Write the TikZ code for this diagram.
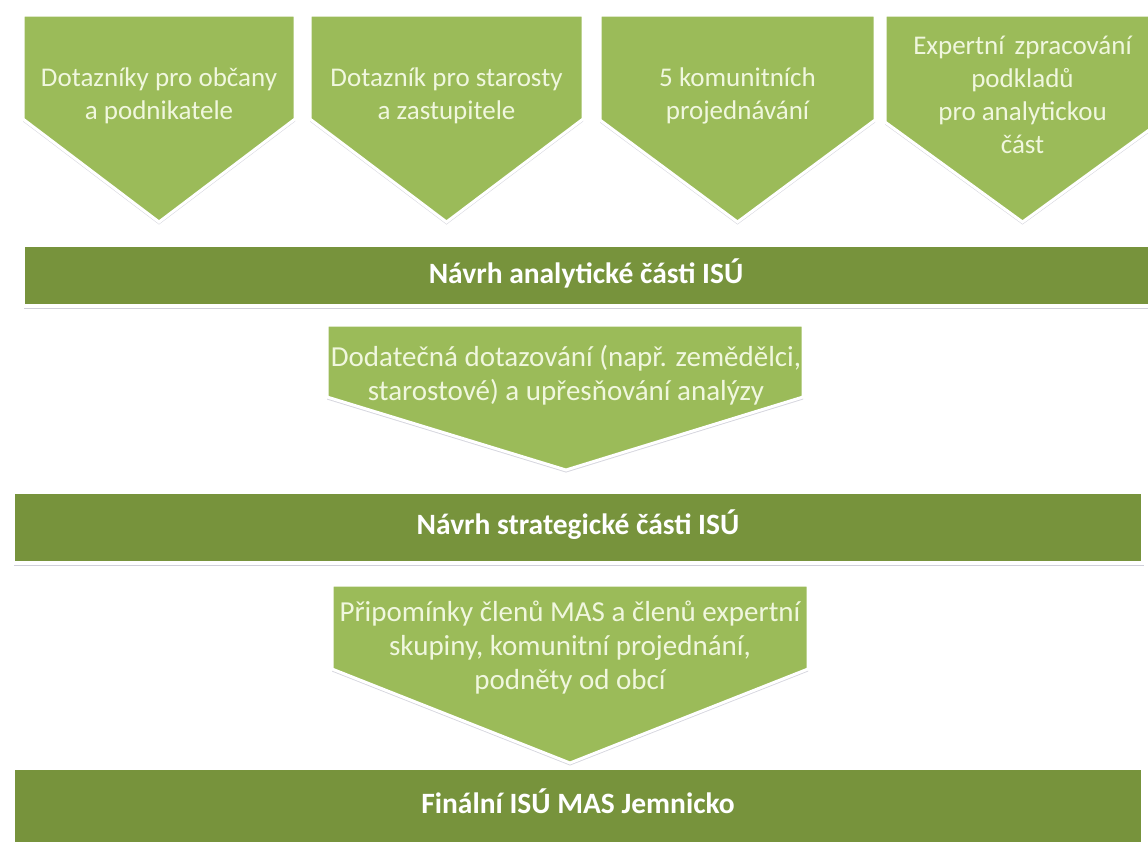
\documentclass[tikz,border=0pt]{standalone}
\usepackage{fontspec}
\setmainfont{Carlito}
\usetikzlibrary{shadows}
\definecolor{lightg}{RGB}{155,187,89}
\definecolor{darkg}{RGB}{119,147,60}
\definecolor{cream}{RGB}{240,247,222}
\definecolor{shadowc}{RGB}{150,150,172}
\tikzset{
  shp/.style={fill=lightg, draw=white, line width=3pt, line join=miter,
    drop shadow={shadow xshift=0pt, shadow yshift=-2.5pt, opacity=0.4, fill=shadowc}},
  barbox/.style={fill=darkg, draw=white, line width=3.5pt,
    drop shadow={shadow xshift=0.5pt, shadow yshift=-2.5pt, opacity=0.45, fill=shadowc}},
  ptxt/.style={text=cream, align=center, inner sep=0pt, font=\fontsize{27}{33}\selectfont},
  mtxt/.style={text=cream, align=center, inner sep=0pt, font=\fontsize{29}{34}\selectfont},
  btxt/.style={text=white, align=center, inner sep=0pt, font=\bfseries\fontsize{29.5}{35}\selectfont}
}
\begin{document}
\begin{tikzpicture}[x=1pt,y=-1pt]
\useasboundingbox (0,0) rectangle (1148,841);
\fill[white] (0,0) rectangle (1148,841);
\clip (0,0) rectangle (1148,841);
% top pentagons
\path[shp] (23,15) -- (295,15) -- (295,119) -- (159,222) -- (23,119) -- cycle;
\path[shp] (310,15) -- (583,15) -- (583,119) -- (446.5,222) -- (310,119) -- cycle;
\path[shp] (600,15) -- (875,15) -- (875,120) -- (737.5,222) -- (600,120) -- cycle;
\path[shp] (885,15) -- (1160,15) -- (1160,122) -- (1022.5,222) -- (885,122) -- cycle;
\node[ptxt] (p1) at (159,96) {Dotazníky pro občany\\a podnikatele};
\node[ptxt] (p2) at (446.5,96) {Dotazník pro starosty\\a zastupitele};
\node[ptxt] (p3) at (737.5,96) {5 komunitních\\projednávání};
\node[ptxt] (p4) at (1022.5,95) {Expertní\hspace{4pt} zpracování\\podkladů\\pro analytickou\\část};
% bar 1
\path[barbox] (23,245) rectangle (1165,306);
\node[btxt] (b1) at (586,273) {Návrh analytické části ISÚ};
% arrow 2
\path[shp] (327,325) -- (803,325) -- (803,397) -- (566,470) -- (327,397) -- cycle;
\node[mtxt] (m1) at (566,375) {Dodatečná dotazování (např. zemědělci,\\starostové) a upřesňování analýzy};
% bar 2
\path[barbox] (13,492) rectangle (1143,563);
\node[btxt] (b2) at (578,525) {Návrh strategické části ISÚ};
% arrow 3
\path[shp] (332,585) -- (808,585) -- (808,669) -- (570,763) -- (332,669) -- cycle;
\node[mtxt] (m2) at (570,648) {Připomínky členů MAS a členů expertní\\skupiny, komunitní projednání,\\podněty od obcí};
% bar 3
\path[barbox] (13,768) rectangle (1143,860);
\node[btxt] (b3) at (578,801) {Finální ISÚ MAS Jemnicko};
\end{tikzpicture}
\end{document}
